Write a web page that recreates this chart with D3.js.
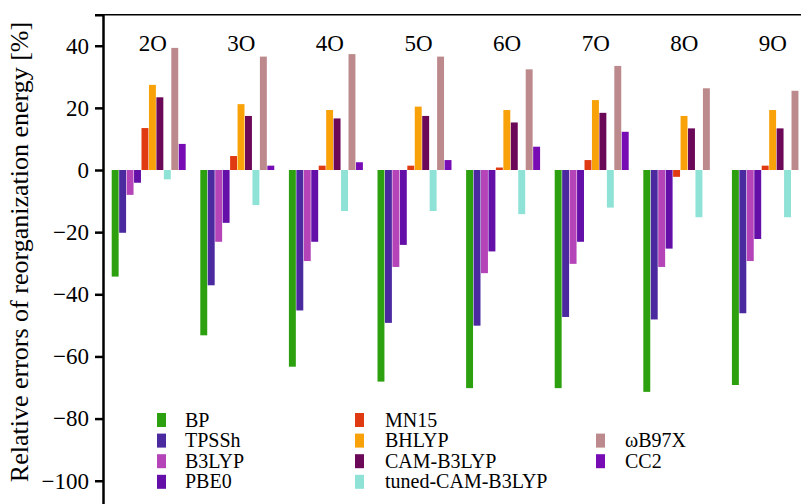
<!DOCTYPE html>
<html>
<head>
<meta charset="utf-8">
<title>Relative errors of reorganization energy</title>
<script src="https://d3js.org/d3.v7.min.js"></script>
</head>
<body style="margin:0">
<script>
// systems along the x axis
var groups = ["2O", "3O", "4O", "5O", "6O", "7O", "8O", "9O"];
var methods = ["BP", "TPSSh", "B3LYP", "PBE0", "MN15", "BHLYP", "CAM-B3LYP", "tuned-CAM-B3LYP", "ωB97X", "CC2"];
var colors = ["#2ca00e", "#4b2aa0", "#b444b8", "#6410a8", "#e03a12", "#f8a108", "#6c0858", "#8ee2d6", "#bc8a8c", "#780cb4"];

// relative errors [%], one value per group
var BP       = [-34.3, -53.2, -63.3, -68.1, -70.2, -70.2, -71.4, -69.2];
var TPSSh    = [-20.2, -37.1, -45.2, -49.2, -50.1, -47.3, -48.1, -46.1];
var B3LYP    = [-8.0, -23.1, -29.3, -31.2, -33.2, -30.2, -31.2, -29.3];
var PBE0     = [-4.1, -17.0, -23.1, -24.1, -26.2, -23.1, -25.3, -22.2];
var MN15     = [13.5, 4.5, 1.4, 1.4, 0.8, 3.2, -2.2, 1.4];
var BHLYP    = [27.4, 21.2, 19.3, 20.4, 19.3, 22.5, 17.4, 19.3];
var CAMB3LYP = [23.4, 17.4, 16.6, 17.4, 15.3, 18.4, 13.4, 13.4];
var tunedCAM = [-3.0, -11.3, -13.2, -13.2, -14.2, -12.1, -15.2, -15.2];
var wB97X    = [39.3, 36.5, 37.3, 36.5, 32.4, 33.5, 26.3, 25.5];
var CC2      = [8.4, 1.4, 2.5, 3.2, 7.5, 12.3, null, null];

var series = [BP, TPSSh, B3LYP, PBE0, MN15, BHLYP, CAMB3LYP, tunedCAM, wB97X, CC2];
var yTicks = [-100, -80, -60, -40, -20, 0, 20, 40];

var w = 801, h = 504;
var fontSerif = "'Liberation Serif'";

var svg = d3.select("body").append("svg")
    .attr("width", w)
    .attr("height", h)
    .style("display", "block");

var y = d3.scaleLinear().domain([-110, 50]).range([511.8, 14.65]);
var x0 = d3.scaleBand().domain(groups).range([111.7, 805.9]).paddingInner(0.165);
var x1 = d3.scaleBand().domain(methods).range([0, x0.bandwidth()]).paddingInner(0.07);

// flatten to one record per bar
var bars = [];
groups.forEach(function(g, gi) {
    methods.forEach(function(m, mi) {
        if (series[mi][gi] != null) bars.push({group: g, method: m, mi: mi, value: series[mi][gi]});
    });
});

svg.append("g").selectAll("rect")
    .data(bars)
    .enter()
    .append("rect")
    .attr("x", function(d) { return x0(d.group) + x1(d.method); })
    .attr("y", function(d) { return y(Math.max(0, d.value)); })
    .attr("width", x1.bandwidth())
    .attr("height", function(d) { return Math.abs(y(d.value) - y(0)); })
    .attr("fill", function(d) { return colors[d.mi]; });

// group labels
svg.append("g").selectAll("text")
    .data(groups)
    .enter()
    .append("text")
    .attr("x", function(d) { return x0(d) + x0.bandwidth() / 2 + 4; })
    .attr("y", 51)
    .attr("text-anchor", "middle")
    .style("font-family", fontSerif)
    .attr("font-size", 23)
    .text(function(d) { return d; });

// frame top line
svg.append("line")
    .attr("x1", 103).attr("x2", w)
    .attr("y1", y(50)).attr("y2", y(50))
    .attr("stroke", "#000").attr("stroke-width", 1.5);

// y axis
var yAxis = svg.append("g")
    .attr("transform", "translate(103,0)")
    .call(d3.axisLeft(y).tickValues(yTicks).tickSize(8).tickPadding(6));
yAxis.attr("font-family", null).attr("font-size", null);
yAxis.select(".domain").attr("stroke-width", 2.5);
yAxis.selectAll(".tick line").attr("stroke-width", 2.5);
yAxis.selectAll(".tick text")
    .style("font-family", fontSerif)
    .attr("font-size", 23)
    .attr("fill", "#000");

svg.append("text")
    .attr("transform", "translate(28,252) rotate(-90)")
    .attr("text-anchor", "middle")
    .style("font-family", fontSerif)
    .attr("font-size", 26)
    .text("Relative errors of reorganization energy [%]");

// legend: three columns
var legendCols = [[157, 185, 0], [355, 385, 0], [596, 625, 1]];
var perCol = [4, 4, 2];
var legendItems = [];
var k = 0;
perCol.forEach(function(n, c) {
    for (var r = 0; r < n; r++) {
        legendItems.push({name: methods[k], color: colors[k], col: c, row: r + legendCols[c][2]});
        k++;
    }
});

var leg = svg.append("g").selectAll("g")
    .data(legendItems)
    .enter()
    .append("g")
    .attr("transform", function(d) { return "translate(0," + (420 + d.row * 20.6) + ")"; });

leg.append("rect")
    .attr("x", function(d) { return legendCols[d.col][0]; })
    .attr("y", -7)
    .attr("width", 9)
    .attr("height", 14)
    .attr("fill", function(d) { return d.color; });

leg.append("text")
    .attr("x", function(d) { return legendCols[d.col][1]; })
    .attr("y", 6.5)
    .style("font-family", fontSerif)
    .attr("font-size", 20)
    .text(function(d) { return d.name; });
</script>
</body>
</html>
